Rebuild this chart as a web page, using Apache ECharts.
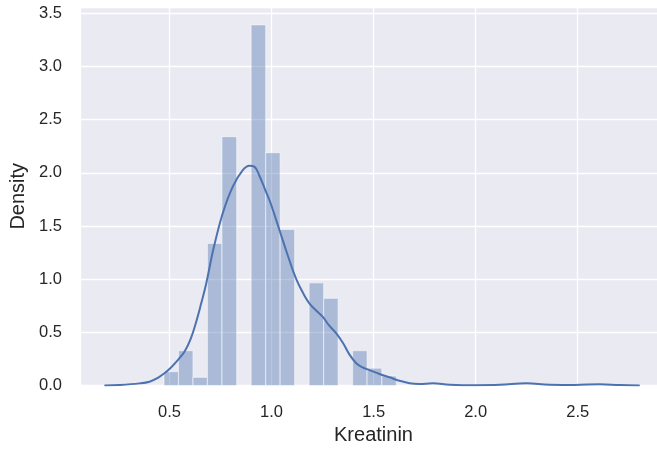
<!DOCTYPE html>
<html>
<head>
<meta charset="utf-8">
<script src="https://cdn.jsdelivr.net/npm/echarts@6/dist/echarts.min.js"></script>
<style>
html,body{margin:0;padding:0;background:#fff;overflow:hidden;}
#chart{width:657px;height:452px;}
</style>
</head>
<body>
<div id="chart"></div>
<script>
// Histogram bin edges (Kreatinin) and density heights
const binEdges = [0.473, 0.544, 0.615, 0.686, 0.757, 0.829, 0.900, 0.971, 1.042, 1.113, 1.184, 1.255, 1.326, 1.397, 1.468, 1.540, 1.611];
const binDensity = [0.13, 0.327, 0.077, 1.336, 2.34, 0, 3.39, 2.19, 1.468, 0, 0.966, 0.82, 0, 0.327, 0.162, 0.089];

// KDE curve points
const kdeX = [0.181, 0.255, 0.353, 0.402, 0.441, 0.475, 0.505, 0.534, 0.574, 0.606, 0.631, 0.655, 0.680, 0.716, 0.761, 0.810, 0.859, 0.892, 0.917, 0.941, 0.971, 0.998, 1.039, 1.080, 1.121, 1.157, 1.186, 1.221, 1.251, 1.284, 1.317, 1.350, 1.382, 1.415, 1.446, 1.480, 1.529, 1.578, 1.627, 1.676, 1.725, 1.789, 1.873, 2.003, 2.118, 2.249, 2.363, 2.485, 2.608, 2.706, 2.804];
const kdeY = [0, 0.005, 0.02, 0.036, 0.07, 0.115, 0.165, 0.225, 0.32, 0.45, 0.60, 0.77, 0.96, 1.29, 1.62, 1.87, 2.025, 2.066, 2.056, 1.97, 1.83, 1.70, 1.46, 1.22, 1.00, 0.86, 0.77, 0.70, 0.645, 0.56, 0.49, 0.40, 0.29, 0.21, 0.17, 0.145, 0.108, 0.077, 0.045, 0.022, 0.015, 0.02, 0.008, 0.003, 0.006, 0.02, 0.006, 0.005, 0.012, 0.004, 0];

const xLabel = 'Kreatinin';
const yLabel = 'Density';

const histData = [];
for (let i = 0; i < binDensity.length; i++) {
  if (binDensity[i] > 0) histData.push([binEdges[i], binEdges[i + 1], binDensity[i]]);
}
const kdeData = kdeX.map((x, i) => [x, kdeY[i]]);

const fmt = v => (Math.abs(v * 2 - Math.round(v * 2)) < 1e-6 ? v.toFixed(1) : '');
const FONT = 'Liberation Sans, Arial, sans-serif';

const chart = echarts.init(document.getElementById('chart'), null, {renderer: 'canvas'});
chart.setOption({
  backgroundColor: '#ffffff',
  animation: false,
  grid: {left: 80, width: 587, top: 7, height: 378.5, show: true, backgroundColor: '#eaeaf2', borderWidth: 0,
         containLabel: false, outerBoundsMode: 'none'},
  xAxis: {
    type: 'value', min: 0.0615, max: 2.9375, splitNumber: 6,
    name: xLabel, nameLocation: 'middle', nameGap: 39,
    nameTextStyle: {fontFamily: FONT, fontSize: 20, color: '#262626'},
    axisLine: {show: false}, axisTick: {show: false},
    axisLabel: {formatter: fmt, fontFamily: FONT, fontSize: 16.5, color: '#262626', margin: 18},
    splitLine: {show: true, lineStyle: {color: '#ffffff', width: 1.3}}
  },
  yAxis: {
    type: 'value', min: 0, max: 3.5595, interval: 0.5,
    name: yLabel, nameLocation: 'middle', nameGap: 52,
    nameTextStyle: {fontFamily: FONT, fontSize: 20, color: '#262626'},
    axisLine: {show: false}, axisTick: {show: false},
    axisLabel: {formatter: fmt, fontFamily: FONT, fontSize: 16.5, color: '#262626', margin: 18},
    splitLine: {show: true, lineStyle: {color: '#ffffff', width: 1.3}}
  },
  series: [
    {
      type: 'custom',
      data: histData,
      encode: {x: [0, 1], y: 2},
      z: 2,
      renderItem: function (params, api) {
        const p0 = api.coord([api.value(0), api.value(2)]);
        const p1 = api.coord([api.value(1), 0]);
        return {
          type: 'rect',
          shape: {x: p0[0], y: p0[1], width: p1[0] - p0[0], height: p1[1] - p0[1]},
          style: {fill: 'rgba(76,114,176,0.4)', stroke: 'rgba(255,255,255,0.45)', lineWidth: 1.2}
        };
      }
    },
    {
      type: 'line',
      data: kdeData,
      smooth: 0.4,
      showSymbol: false,
      z: 3,
      lineStyle: {color: '#4c72b0', width: 2}
    }
  ]
});
</script>
</body>
</html>
